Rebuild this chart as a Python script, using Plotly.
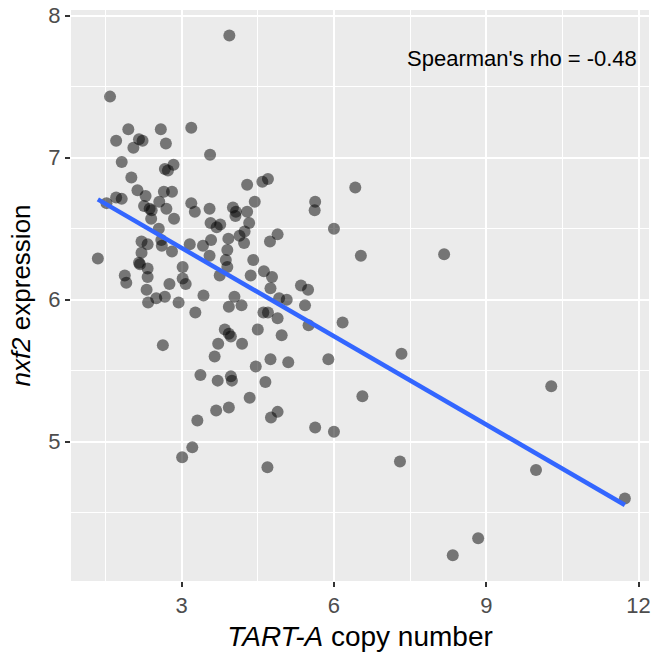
import numpy as np
import plotly.graph_objects as go

# TART-A copy number (x) and nxf2 expression (y)
tart_a = [3.94, 1.59, 1.95, 1.71, 2.16, 2.23, 2.05, 2.59, 2.69, 3.19,
          3.56, 1.82, 2.84, 2.67, 2.73, 2.01, 2.13, 2.65, 2.81, 1.71,
          1.82, 1.52, 2.29, 2.26, 2.37, 2.41, 2.56, 2.70, 2.40, 2.85,
          2.55, 3.19, 3.26, 3.55, 3.57, 3.76, 3.69, 4.01, 4.07, 4.06,
          4.29, 4.59, 4.70, 4.44, 4.29, 4.33, 4.14, 4.24, 4.23, 3.92,
          3.58, 3.42, 3.55, 3.16, 2.21, 2.33, 2.60, 2.61, 2.21, 2.16,
          2.18, 2.33, 2.33, 2.81, 1.35, 1.88, 1.91, 2.31, 2.50, 2.67,
          2.34, 2.76, 2.94, 3.02, 3.02, 3.08, 3.27, 3.43, 3.75, 3.90,
          3.87, 3.90, 4.04, 3.93, 4.18, 4.41, 4.36, 4.62, 4.78, 4.74,
          4.89, 4.75, 4.92, 5.07, 4.61, 4.70, 4.89, 4.50, 3.85, 3.93,
          3.97, 3.72, 4.19, 4.97, 2.63, 3.65, 4.46, 4.75, 5.10, 5.63,
          5.62, 6.00, 5.35, 5.49, 5.43, 5.50, 6.17, 5.89, 6.42, 6.53,
          3.37, 3.71, 3.97, 3.99, 4.65, 4.34, 3.93, 3.68, 3.31, 4.89,
          4.76, 5.63, 6.00, 3.21, 3.01, 4.69, 6.56, 8.17, 7.33, 7.30,
          10.28, 9.98, 11.73, 8.84, 8.34]
nxf2 = [7.86, 7.43, 7.20, 7.12, 7.13, 7.12, 7.07, 7.20, 7.10, 7.21,
        7.02, 6.97, 6.95, 6.92, 6.91, 6.86, 6.77, 6.76, 6.76, 6.72,
        6.71, 6.68, 6.73, 6.66, 6.64, 6.63, 6.69, 6.64, 6.57, 6.57,
        6.50, 6.68, 6.62, 6.64, 6.54, 6.53, 6.51, 6.65, 6.62, 6.59,
        6.81, 6.83, 6.85, 6.69, 6.62, 6.54, 6.45, 6.48, 6.40, 6.43,
        6.42, 6.38, 6.31, 6.39, 6.41, 6.39, 6.42, 6.38, 6.33, 6.26,
        6.25, 6.22, 6.16, 6.34, 6.29, 6.17, 6.12, 6.07, 6.01, 6.02,
        5.98, 6.11, 5.98, 6.23, 6.15, 6.11, 5.91, 6.03, 6.17, 6.35,
        6.28, 6.23, 6.02, 5.95, 5.96, 6.28, 6.17, 6.20, 6.16, 6.41,
        6.46, 6.08, 6.01, 6.00, 5.91, 5.91, 5.87, 5.79, 5.79, 5.76,
        5.74, 5.69, 5.69, 5.75, 5.68, 5.60, 5.53, 5.58, 5.56, 6.69,
        6.63, 6.50, 6.10, 6.07, 5.96, 5.82, 5.84, 5.58, 6.79, 6.31,
        5.47, 5.43, 5.46, 5.43, 5.42, 5.31, 5.24, 5.22, 5.15, 5.21,
        5.17, 5.10, 5.07, 4.96, 4.89, 4.82, 5.32, 6.32, 5.62, 4.86,
        5.39, 4.80, 4.60, 4.32, 4.20]

rho_label = "Spearman's rho = -0.48"
x_ticks = [3, 6, 9, 12]
y_ticks = [5, 6, 7, 8]

x = np.array(tart_a)
y = np.array(nxf2)
slope, intercept = np.polyfit(x, y, 1)
fit_x = np.array([x.min(), x.max()])
fit_y = intercept + slope * fit_x

FONT = "Liberation Sans, Arial, Helvetica, sans-serif"

fig = go.Figure()
fig.add_trace(go.Scatter(
    x=tart_a, y=nxf2, mode="markers",
    marker=dict(color="rgba(0,0,0,0.5)", size=12, line=dict(width=0)),
    showlegend=False, hoverinfo="skip"))
fig.add_trace(go.Scatter(
    x=fit_x, y=fit_y, mode="lines",
    line=dict(color="#3366FF", width=4.5),
    showlegend=False, hoverinfo="skip"))

fig.add_annotation(x=9.7, y=7.7, text=rho_label, showarrow=False,
                   xanchor="center", yanchor="middle",
                   font=dict(family=FONT, size=22, color="black"))

axis_common = dict(
    showgrid=True, gridcolor="white", gridwidth=2,
    zeroline=False, showline=False,
    ticks="outside", ticklen=5, tickwidth=2, tickcolor="#333333",
    tickfont=dict(family=FONT, size=22, color="#4D4D4D"),
)

fig.update_layout(
    width=654, height=655,
    margin=dict(l=71, r=3, t=10, b=74),
    paper_bgcolor="white", plot_bgcolor="#EBEBEB",
    font=dict(family=FONT),
    xaxis=dict(
        range=[0.821, 12.205], tickvals=x_ticks,
        ticktext=[str(v) for v in x_ticks],
        minor=dict(showgrid=True, gridcolor="white", gridwidth=1,
                   tickvals=[1.5, 4.5, 7.5, 10.5], ticks=""),
        title=dict(text="<i>TART-A</i> copy number",
                   font=dict(family=FONT, size=28, color="black"),
                   standoff=8),
        **axis_common),
    yaxis=dict(
        range=[4.019, 8.040], tickvals=y_ticks,
        ticktext=[str(v) for v in y_ticks],
        minor=dict(showgrid=True, gridcolor="white", gridwidth=1,
                   tickvals=[4.5, 5.5, 6.5, 7.5], ticks=""),
        title=dict(text="<i>nxf2</i> expression",
                   font=dict(family=FONT, size=26, color="black"),
                   standoff=10),
        **axis_common),
)

fig.write_html("out.html")
